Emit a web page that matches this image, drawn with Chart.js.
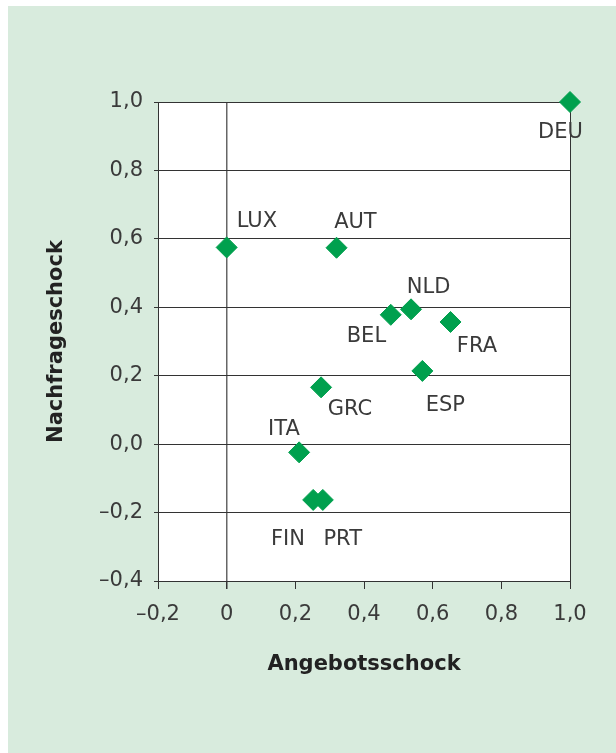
<!DOCTYPE html>
<html>
<head>
<meta charset="utf-8">
<script src="https://cdn.jsdelivr.net/npm/chart.js@4/dist/chart.umd.min.js"></script>
<style>
html,body{margin:0;padding:0;background:#fff;}
canvas{display:block;}
</style>
</head>
<body>
<canvas id="c" width="616" height="753"></canvas>
<script>
// ---- data ----
const countries = ['LUX','AUT','DEU','NLD','BEL','FRA','ESP','GRC','ITA','FIN','PRT'];
const supplyShock = [0.0, 0.32, 1.0, 0.537, 0.478, 0.652, 0.570, 0.275, 0.211, 0.252, 0.280];
const demandShock = [0.575, 0.574, 1.0, 0.394, 0.378, 0.357, 0.214, 0.166, -0.024, -0.163, -0.163];
const xTickLabels = ['\u20130,2','0','0,2','0,4','0,6','0,8','1,0'];
const yTickLabels = ['\u20130,4','\u20130,2','0,0','0,2','0,4','0,6','0,8','1,0'];
const xTitle = 'Angebotsschock';
const yTitle = 'Nachfrageschock';

// ---- label placement (style only) ----
const labelStyle = {
  LUX:{dx:10,dy:-20,align:'left'},
  AUT:{dx:-2.4,dy:-20,align:'left'},
  DEU:{dx:-9.5,dy:36,align:'center'},
  NLD:{dx:-4.3,dy:-16,align:'left'},
  BEL:{dx:-4.7,dy:27,align:'right'},
  FRA:{dx:6.3,dy:29.7,align:'left'},
  ESP:{dx:3.4,dy:40,align:'left'},
  GRC:{dx:6.7,dy:27.7,align:'left'},
  ITA:{dx:0.7,dy:-17.3,align:'right'},
  FIN:{dx:-8.3,dy:45,align:'right'},
  PRT:{dx:0.6,dy:45,align:'left'}
};

const BG = '#d8ebdd';
const GREEN = '#00a04e';
const INK = '#333333';
const TXT = '#3a3a3a';

Chart.defaults.font.family = "'DejaVu Sans', sans-serif";
Chart.defaults.color = TXT;

const points = countries.map((c,i)=>({x:supplyShock[i], y:demandShock[i], label:c}));

const bgPlugin = {
  id:'bg',
  beforeDraw(chart){
    const {ctx, chartArea:a} = chart;
    ctx.save();
    ctx.fillStyle = '#ffffff';
    ctx.fillRect(0,0,chart.width,chart.height);
    ctx.fillStyle = BG;
    ctx.fillRect(8,6,chart.width-8,chart.height-6);
    ctx.fillStyle = '#ffffff';
    ctx.fillRect(a.left,a.top,a.right-a.left,a.bottom-a.top);
    ctx.restore();
  }
};

const labelPlugin = {
  id:'pointLabels',
  afterDatasetsDraw(chart){
    const {ctx} = chart;
    const meta = chart.getDatasetMeta(0);
    ctx.save();
    ctx.font = "21px 'DejaVu Sans'";
    ctx.fillStyle = TXT;
    ctx.textBaseline = 'alphabetic';
    meta.data.forEach((el,i)=>{
      const s = labelStyle[countries[i]];
      ctx.textAlign = s.align;
      ctx.fillText(countries[i], el.x + s.dx, el.y + s.dy);
    });
    ctx.restore();
  }
};

new Chart(document.getElementById('c'), {
  type:'scatter',
  data:{
    datasets:[{
      data:points,
      pointStyle:'rectRot',
      pointRadius:10.5,
      pointHoverRadius:10.5,
      backgroundColor:GREEN,
      borderColor:GREEN,
      borderWidth:1,
      clip:false
    }]
  },
  options:{
    responsive:false,
    animation:false,
    events:[],
    layout:{padding:{top:102,right:46,left:0,bottom:0}},
    plugins:{legend:{display:false},tooltip:{enabled:false}},
    scales:{
      x:{
        type:'linear',
        min:-0.2,max:1.0,
        afterFit(s){ s.height = 172; },
        ticks:{
          stepSize:0.2,
          padding:13,
          font:{size:21},
          color:TXT,
          callback:(v,i)=>xTickLabels[i]
        },
        grid:{
          drawOnChartArea:true,
          drawTicks:true,
          tickLength:8,
          tickColor:INK,
          color:(c)=>{
            const v = c.tick ? c.tick.value : null;
            if (v===null) return 'transparent';
            if (Math.abs(v)<1e-9) return '#666666';
            if (Math.abs(v-1)<1e-9) return INK;
            return 'transparent';
          },
          lineWidth:(c)=>{
            const v = c.tick ? c.tick.value : 1;
            return Math.abs(v)<1e-9 ? 1.5 : 1;
          }
        },
        border:{display:true,color:INK,width:1},
        title:{
          display:true,
          text:xTitle,
          font:{size:21,weight:'bold'},
          color:'#222222',
          padding:{top:0,bottom:76}
        }
      },
      y:{
        type:'linear',
        min:-0.4,max:1.0,
        afterFit(s){ s.width = 158; },
        ticks:{
          stepSize:0.2,
          padding:11,
          font:{size:21},
          color:TXT,
          callback:(v,i)=>yTickLabels[i]
        },
        grid:{
          drawOnChartArea:true,
          drawTicks:true,
          tickLength:4,
          color:INK,
          tickColor:INK,
          lineWidth:1
        },
        border:{display:true,color:INK,width:1},
        title:{
          display:true,
          text:yTitle,
          font:{size:21,weight:'bold'},
          color:'#222222',
          padding:{top:44,bottom:0}
        }
      }
    }
  },
  plugins:[bgPlugin,labelPlugin]
});
</script>
</body>
</html>
